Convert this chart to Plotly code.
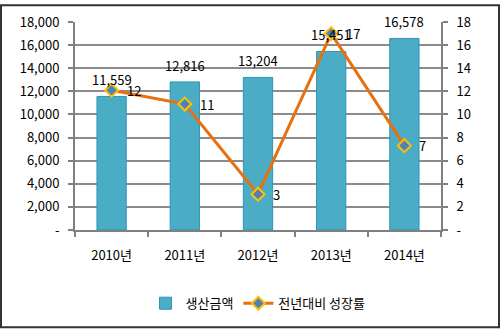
import plotly.graph_objects as go

years = ["2010년", "2011년", "2012년", "2013년", "2014년"]
production = [11559, 12816, 13204, 15451, 16578]
growth = [12.1, 10.9, 3.1, 17.0, 7.3]

left_ticks = list(range(0, 18001, 2000))
left_labels = ["-"] + [f"{v:,}" for v in left_ticks[1:]]
right_ticks = list(range(0, 19, 2))
right_labels = ["-"] + [str(v) for v in right_ticks[1:]]

W, H = 500, 330
ML, MR, MT, MB = 75, 59, 18, 100
PW, PH = W - ML - MR, H - MT - MB

FONT = "Noto Sans CJK KR"
grid_c = "#8c8c8c"
axis_c = "#808080"

fig = go.Figure()
fig.add_trace(go.Bar(
    x=years, y=production, name="생산금액",
    marker=dict(color="#4BACC6", line=dict(color="#2E95B5", width=1)),
    width=0.4, yaxis="y",
))
fig.add_trace(go.Scatter(
    x=years, y=growth, name="전년대비 성장률", mode="lines+markers",
    line=dict(color="#E8700E", width=3),
    marker=dict(symbol="diamond", size=10, color="#4F81BD",
                line=dict(color="#FFC000", width=2)),
    cliponaxis=False, yaxis="y2",
))

annotations = []
# value labels above the bars
for yr, v in zip(years, production):
    annotations.append(dict(x=yr, y=v, xref="x", yref="y", text=f"{v:,}",
                            showarrow=False, yanchor="bottom", yshift=5,
                            font=dict(size=13, family=FONT, color="#000")))
# growth labels to the right of the markers
for yr, g in zip(years, growth):
    annotations.append(dict(x=yr, y=g, xref="x", yref="y2", text=f"{g:.0f}",
                            showarrow=False, xanchor="left", xshift=13,
                            font=dict(size=13, family=FONT, color="#000")))

fig.update_layout(
    width=W, height=H,
    margin=dict(l=ML, r=MR, t=MT, b=MB),
    paper_bgcolor="white", plot_bgcolor="white",
    font=dict(family=FONT, size=12, color="#000"),
    bargap=0.6,
    showlegend=True,
    legend=dict(orientation="h", x=0.5, xanchor="center", y=-0.28, yanchor="top",
                font=dict(size=13, family=FONT), itemwidth=30, tracegroupgap=0),
    xaxis=dict(showgrid=False, showline=True, linecolor=axis_c, linewidth=2,
               ticks="outside", tickcolor=axis_c, tickwidth=2, ticklen=5,
               tickson="boundaries", tickfont=dict(size=13), ticklabelstandoff=12),
    yaxis=dict(range=[0, 18000], tickvals=left_ticks, ticktext=left_labels,
               showgrid=True, gridcolor=grid_c, gridwidth=2,
               showline=True, linecolor=axis_c, linewidth=2,
               ticks="outside", tickcolor=axis_c, tickwidth=2, ticklen=5,
               tickfont=dict(size=13), zeroline=False, ticklabelstandoff=6),
    yaxis2=dict(range=[0, 18], tickvals=right_ticks, ticktext=right_labels,
                overlaying="y", side="right", showgrid=False,
                showline=True, linecolor=axis_c, linewidth=2,
                ticks="outside", tickcolor=axis_c, tickwidth=2, ticklen=5,
                tickfont=dict(size=13), zeroline=False, ticklabelstandoff=6),
    annotations=annotations,
    shapes=[dict(type="rect", xref="paper", yref="paper",
                 x0=(1 - ML) / PW, x1=(W - 1 - ML) / PW,
                 y0=-(H - 1 - MT - PH) / PH, y1=(H - 1 - MB) / PH,
                 line=dict(color="#333", width=2), layer="above")],
)

fig.write_html("out.html")
